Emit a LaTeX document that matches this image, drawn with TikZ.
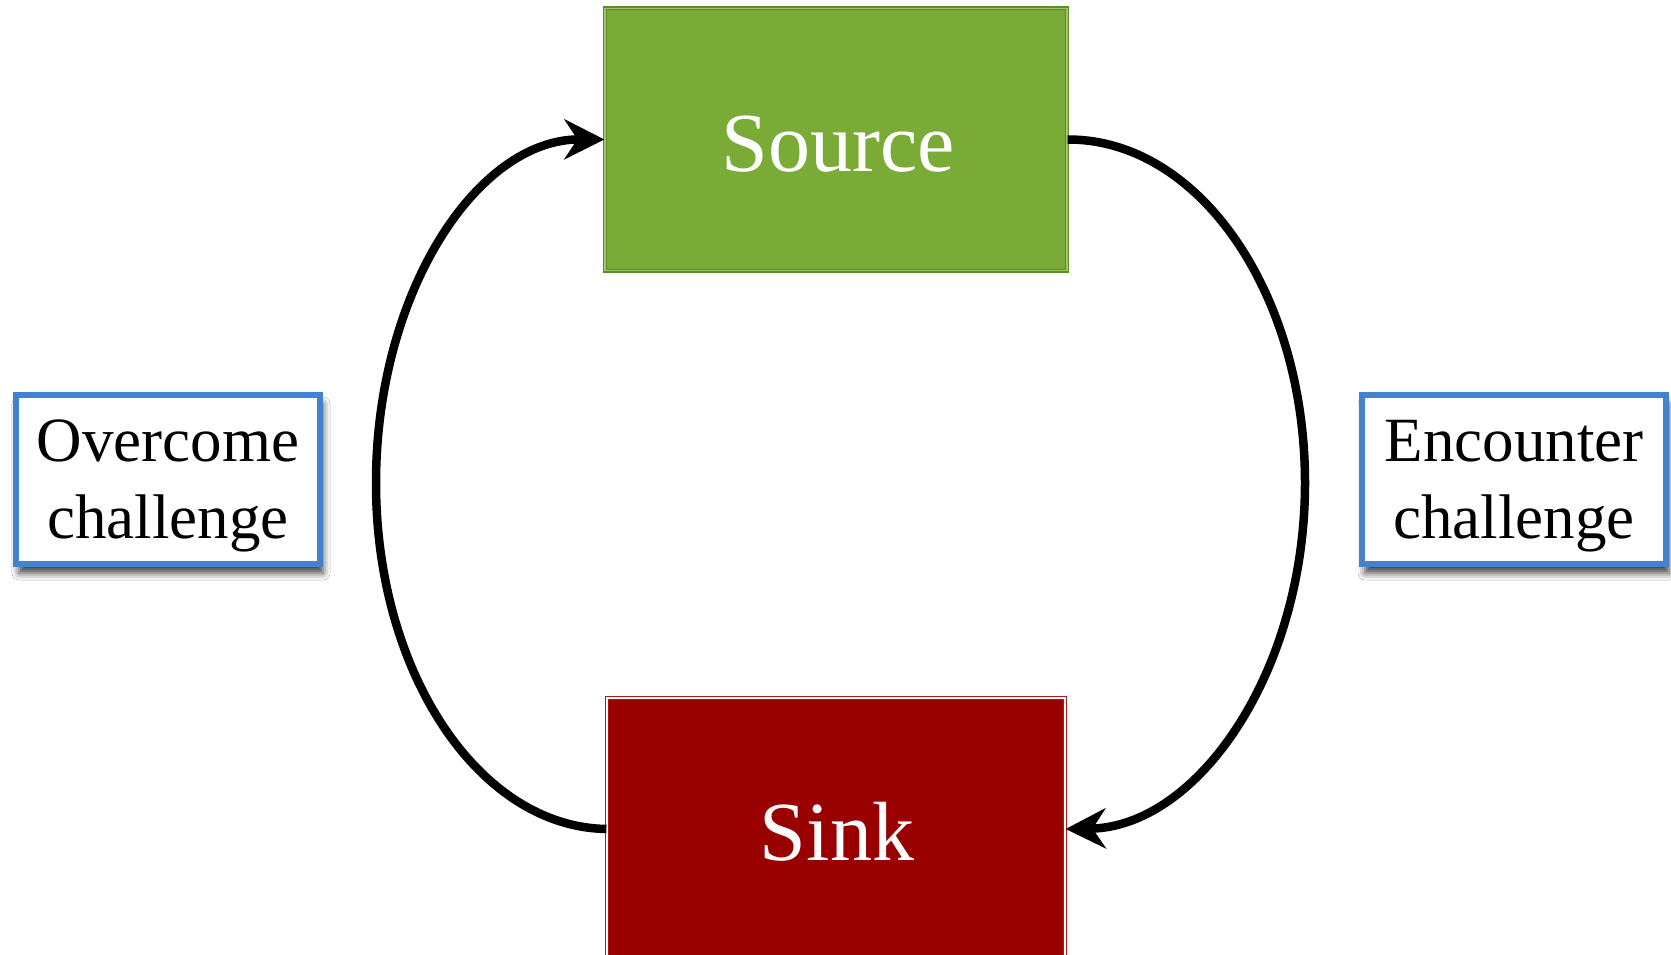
\documentclass[tikz,border=0pt]{standalone}
\usepackage{fontspec}
\setmainfont{Liberation Serif}
\usetikzlibrary{arrows.meta,shadows.blur}
\definecolor{srcgreen}{RGB}{122,171,54}
\definecolor{srcedge}{RGB}{92,140,40}
\definecolor{sinkred}{RGB}{153,0,0}
\definecolor{sinkedge}{RGB}{178,24,24}
\definecolor{boxblue}{RGB}{66,130,206}
\tikzset{
  srcbox/.style={rectangle, fill=srcgreen, draw=srcedge, double=srcgreen!70!white, double distance=1.6pt, line width=1.2pt, minimum width=462pt, minimum height=262pt, inner sep=0pt},
  sinkbox/.style={rectangle, fill=sinkred, draw=sinkedge, double=white, double distance=1.6pt, line width=1.2pt, minimum width=458pt, minimum height=262pt, inner sep=0pt},
  bigtext/.style={text=white, font=\fontsize{84}{90}\selectfont, inner sep=0pt},
  labbox/.style={rectangle, fill=white, draw=boxblue, line width=6.5pt, minimum width=304pt, minimum height=169pt, inner sep=0pt,
     blur shadow={shadow xshift=3pt, shadow yshift=-9pt, shadow blur radius=7pt, shadow opacity=75}},
  labtext/.style={text=black, font=\fontsize{63}{77}\selectfont, align=center, inner sep=0pt},
  flow/.style={line width=8.5pt, black},
  tip/.style={-{Stealth[length=40pt,width=40pt,inset=13pt]}}
}
\begin{document}
\begin{tikzpicture}[x=1pt,y=-1pt]
\useasboundingbox (0,0) rectangle (1671,955);
\fill[white] (0,0) rectangle (1671,955);
\node[srcbox] (source) at (836,139.5) {};
\node[bigtext] (sourcetxt) at (838,144) {Source};
\node[sinkbox] (sink) at (836,829) {};
\node[bigtext] (sinktxt) at (837,832) {Sink};
\node[labbox] (over) at (168,479.5) {};
\node[labtext] (overtxt) at (168,486) {Overcome\\challenge};
\node[labbox] (enc) at (1514,479.5) {};
\node[labtext] (enctxt) at (1514,486) {Encounter\\challenge};
\draw[flow,tip] (sink.west) .. controls (479,827) and (376,673) .. (376,483)
   .. controls (376,293) and (477,139) .. (source.west);
\draw[flow,tip] (source.east) .. controls (1199,139) and (1305,293) .. (1305,483)
   .. controls (1305,673) and (1197,827) .. (sink.east);
\end{tikzpicture}
\end{document}
